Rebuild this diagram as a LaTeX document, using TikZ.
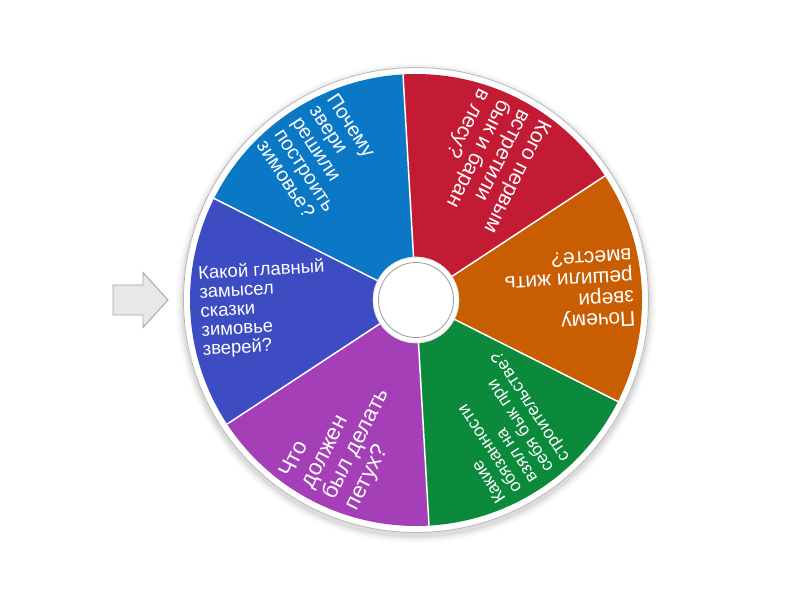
\documentclass[tikz,border=0pt]{standalone}
\usepackage{fontspec}
\setmainfont{Liberation Sans}
\definecolor{cLBlue}{HTML}{0B78C6}
\definecolor{cRed}{HTML}{C41B35}
\definecolor{cOrange}{HTML}{C95D02}
\definecolor{cGreen}{HTML}{0B8A3B}
\definecolor{cPurple}{HTML}{A53FB8}
\definecolor{cIndigo}{HTML}{3D4CC2}
\definecolor{cRim}{HTML}{B8B8B8}
\definecolor{cArrowFill}{HTML}{E8E8E8}
\definecolor{cArrowLine}{HTML}{A3A3A3}
\tikzset{
  seglabel/.style={text=white, anchor=west, inner sep=0pt, align=left},
  sepline/.style={draw=white, line width=1.5pt},
}
\newcommand{\wseg}[2]{\fill[#2] (C) -- ($(C)+(#1:226)$) arc[start angle=#1, end angle=#1+60, radius=226pt] -- cycle;}
\usetikzlibrary{calc}
\begin{document}
\begin{tikzpicture}[x=1pt,y=1pt]
\useasboundingbox (0,0) rectangle (800,600);
\fill[white] (0,0) rectangle (800,600);
\coordinate (C) at (416,300);
% soft shadow
\foreach \r/\o in {240/0.02,238/0.03,236/0.04,234.5/0.05}{
  \fill[black, opacity=\o] ($(C)+(0,-3)$) circle[radius=\r pt];
}
% rim
\fill[white, draw=cRim, line width=0.8pt] (C) circle[radius=232.5pt];
% segments
\wseg{93.3}{cLBlue}
\wseg{153.3}{cIndigo}
\wseg{213.3}{cPurple}
\wseg{273.3}{cGreen}
\wseg{-26.7}{cOrange}
\wseg{33.3}{cRed}
% separators
\foreach \a in {93.3,153.3,213.3,273.3,333.3,33.3}{
  \draw[sepline] (C) -- ($(C)+(\a:226)$);
}
% hub
\fill[white, draw=black!15, line width=0.6pt] (C) circle[radius=43pt];
\fill[white, draw=black!40, line width=0.8pt] (C) circle[radius=37.5pt];
% labels
\node[seglabel, rotate=303.3, font=\fontsize{20}{21}\selectfont] (tLBlue) at ($(C)+(123.3:217)$) {Почему\\звери\\решили\\построить\\зимовье?};
\node[seglabel, rotate=3.3, font=\fontsize{18.5}{19}\selectfont] (tIndigo) at ($(C)+(183.3:216)$) {Какой главный\\замысел\\сказки\\зимовье\\зверей?};
\node[seglabel, rotate=63.3, font=\fontsize{22.5}{24.5}\selectfont] (tPurple) at ($(C)+(243.3:216)$) {Что\\должен\\был делать\\петух?};
\node[seglabel, rotate=123.3, font=\fontsize{17.5}{19}\selectfont] (tGreen) at ($(C)+(303.3:216)$) {Какие\\обязанности\\взял на\\себя бык при\\строительстве?};
\node[seglabel, rotate=183.3, font=\fontsize{21}{21}\selectfont] (tOrange) at ($(C)+(3.3:218)$) {Почему\\звери\\решили жить\\вместе?};
\node[seglabel, rotate=243.3, font=\fontsize{21}{22.5}\selectfont] (tRed) at ($(C)+(63.3:218)$) {Кого первым\\встретили\\бык и баран\\в лесу?};
% pointer arrow
\draw[fill=cArrowFill, draw=cArrowLine, line width=0.9pt, line join=miter]
  (113,285) -- (143,285) -- (143,272.5) -- (168,300) -- (143,327.5) -- (143,315) -- (113,315) -- cycle;
\end{tikzpicture}
\end{document}
